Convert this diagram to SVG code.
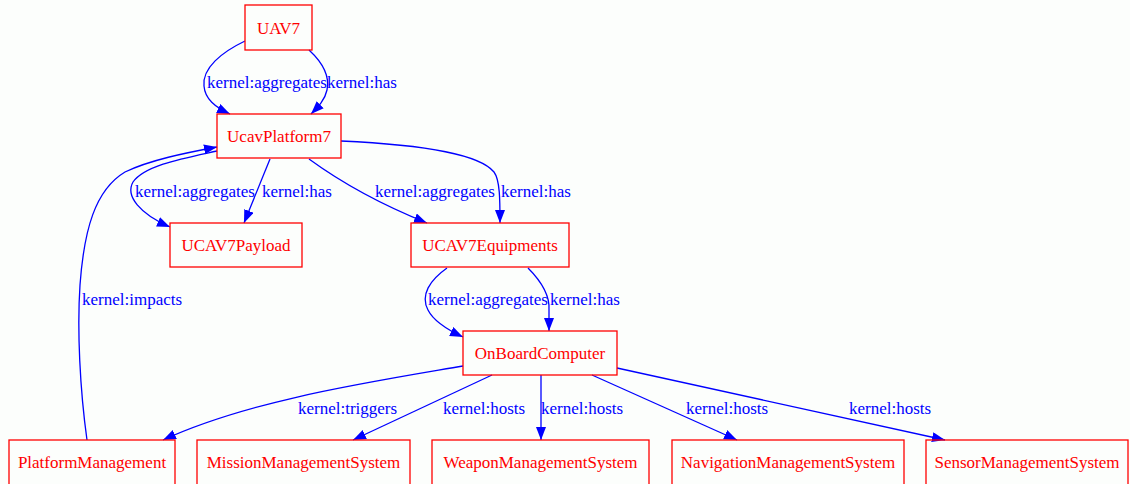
<svg xmlns="http://www.w3.org/2000/svg" width="1130" height="484" viewBox="0 0 1130 484">
<style>
.bg{fill:#fcfefc}
.node rect{fill:none;stroke:#ff0000;stroke-width:1.3}
.node text{font-family:"Liberation Serif","Times New Roman",serif;font-size:17px;fill:#ff0000;text-anchor:middle}
.edge path{fill:none;stroke:#0000ff;stroke-width:1.3;marker-end:url(#arr)}
.lbl{font-family:"Liberation Serif","Times New Roman",serif;font-size:17px;fill:#0000ff}
</style>
<defs>
<marker id="arr" markerUnits="userSpaceOnUse" markerWidth="14" markerHeight="11" refX="13" refY="5" orient="auto">
<path d="M0,0 L13,5 L0,10 z" fill="#0000ff"/>
</marker>
</defs>
<rect class="bg" x="0" y="0" width="1130" height="484"/>
<g id="edges">
<g class="edge"><path d="M245,41 C222,52 202,68 204,86 C205,99 215,107 230,114"/></g>
<g class="edge"><path d="M309,50 C322,62 330,76 327,90 C325,100 318,107 311,114"/></g>
<g class="edge"><path d="M87,440 C80,390 77,330 80,285 C84,230 95,190 125,172 C150,160 185,153 217,147"/></g>
<g class="edge"><path d="M217,151 C185,158 145,165 133,182 C125,196 140,214 170,227"/></g>
<g class="edge"><path d="M270,159 L244,223"/></g>
<g class="edge"><path d="M309,159 C335,178 370,200 427,223"/></g>
<g class="edge"><path d="M341,141 C430,145 480,155 494,172 C500,180 500,200 500,223"/></g>
<g class="edge"><path d="M447,268 C430,280 420,295 428,310 C434,322 448,330 463,337"/></g>
<g class="edge"><path d="M528,268 C540,280 550,295 549,310 L549,331"/></g>
<g class="edge"><path d="M463,366 C370,382 250,400 163,440"/></g>
<g class="edge"><path d="M492,375 L353,440"/></g>
<g class="edge"><path d="M541,375 L541,440"/></g>
<g class="edge"><path d="M592,375 L737,440"/></g>
<g class="edge"><path d="M617,368 L945,440"/></g>
<text class="lbl" x="207" y="88">kernel:aggregates</text>
<text class="lbl" x="327" y="88">kernel:has</text>
<text class="lbl" x="82" y="305">kernel:impacts</text>
<text class="lbl" x="135" y="197">kernel:aggregates</text>
<text class="lbl" x="262" y="197">kernel:has</text>
<text class="lbl" x="375" y="197">kernel:aggregates</text>
<text class="lbl" x="501" y="197">kernel:has</text>
<text class="lbl" x="428" y="305">kernel:aggregates</text>
<text class="lbl" x="550" y="305">kernel:has</text>
<text class="lbl" x="298" y="414">kernel:triggers</text>
<text class="lbl" x="443" y="414">kernel:hosts</text>
<text class="lbl" x="541" y="414">kernel:hosts</text>
<text class="lbl" x="686" y="414">kernel:hosts</text>
<text class="lbl" x="849" y="414">kernel:hosts</text>
</g>
<g id="UAV7" class="node"><rect x="245" y="5" width="67" height="45"/><text x="278.5" y="33.5">UAV7</text></g>
<g id="UcavPlatform7" class="node"><rect x="217" y="114" width="124" height="44"/><text x="279" y="142">UcavPlatform7</text></g>
<g id="UCAV7Payload" class="node"><rect x="170" y="223" width="132" height="44"/><text x="236" y="251">UCAV7Payload</text></g>
<g id="UCAV7Equipments" class="node"><rect x="411" y="223" width="158" height="44"/><text x="490" y="251">UCAV7Equipments</text></g>
<g id="OnBoardComputer" class="node"><rect x="463" y="331" width="154" height="44"/><text x="540" y="359">OnBoardComputer</text></g>
<g id="PlatformManagement" class="node"><rect x="9" y="440" width="166" height="46"/><text x="92" y="468">PlatformManagement</text></g>
<g id="MissionManagementSystem" class="node"><rect x="197" y="440" width="213" height="46"/><text x="303.5" y="468">MissionManagementSystem</text></g>
<g id="WeaponManagementSystem" class="node"><rect x="432" y="440" width="217" height="46"/><text x="540.5" y="468">WeaponManagementSystem</text></g>
<g id="NavigationManagementSystem" class="node"><rect x="672" y="440" width="232" height="46"/><text x="788" y="468">NavigationManagementSystem</text></g>
<g id="SensorManagementSystem" class="node"><rect x="926" y="440" width="202" height="46"/><text x="1027" y="468">SensorManagementSystem</text></g>
</svg>
